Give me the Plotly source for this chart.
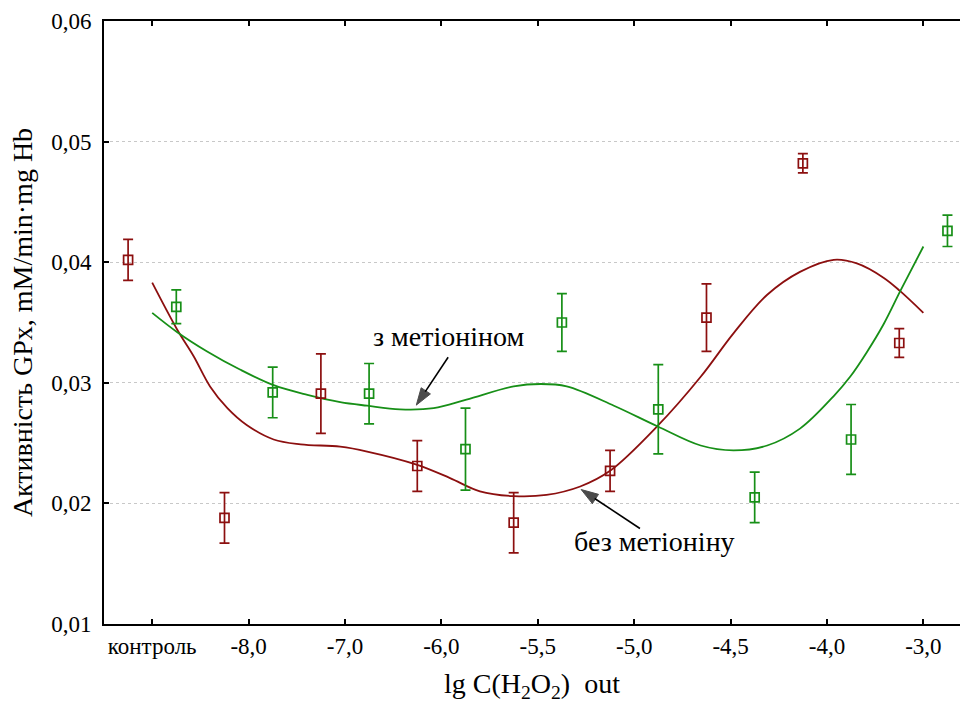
import plotly.graph_objects as go

# ---- data ----
tick_labels = ["контроль", "-8,0", "-7,0", "-6,0", "-5,5", "-5,0", "-4,5", "-4,0", "-3,0"]
positions = [0, 1, 2, 3, 4, 5, 6, 7, 8]

# без метіоніну (red) – means and errors
red_mean = [0.0402, 0.0188, 0.0291, 0.0231, 0.0184, 0.0227, 0.0354, 0.0482, 0.0333]
red_err = [0.0017, 0.0021, 0.0033, 0.0021, 0.0025, 0.0017, 0.0028, 0.0008, 0.0012]

# з метіоніном (green) – means and errors
green_mean = [0.0363, 0.0292, 0.0291, 0.0245, 0.0350, 0.0278, 0.0205, 0.0253, 0.0426]
green_err = [0.0014, 0.0021, 0.0025, 0.0034, 0.0024, 0.0037, 0.0021, 0.0029, 0.0013]

# fitted curves
red_curve_x = [0.0, 0.26, 0.43, 0.60, 0.78, 0.98, 1.26, 1.54, 1.95, 2.23, 2.75, 3.09,
               3.40, 3.75, 4.09, 4.44, 4.75, 5.24, 5.69, 6.03, 6.38, 6.72, 7.07,
               7.31, 7.59, 7.76, 8.0]
red_curve_y = [0.0383, 0.0344, 0.0322, 0.0297, 0.0279, 0.0265, 0.0253, 0.0249, 0.0247, 0.0243,
               0.0232, 0.0221, 0.0210, 0.0206, 0.0207, 0.0214, 0.0227, 0.0264, 0.0305, 0.0341,
               0.0373, 0.0392, 0.0402, 0.0399, 0.0387, 0.0376, 0.0358]

green_curve_x = [0.0, 0.26, 0.57, 0.91, 1.26, 1.61, 1.95, 2.23, 2.57, 2.92, 3.26,
                 3.75, 4.03, 4.30, 4.79, 5.24, 5.69, 6.03, 6.38, 6.72, 7.07, 7.24, 7.41,
                 7.59, 7.76, 8.0]
green_curve_y = [0.0358, 0.0342, 0.0326, 0.0311, 0.0298, 0.0290, 0.0284, 0.0281, 0.0278,
                 0.0279, 0.0286, 0.0297, 0.0299, 0.0297, 0.0281, 0.0264, 0.0248, 0.0244,
                 0.0248, 0.0262, 0.0289, 0.0305, 0.0325, 0.0349, 0.0376, 0.0413]

# annotation labels and their arrows (tail -> head), in axis units
label_text = ["з метіоніном", "без метіоніну"]
label_x = [3.07, 5.21]
label_y = [0.0338, 0.0168]
arrow_tail_x = [3.07, 5.06]
arrow_tail_y = [0.03212, 0.01792]
arrow_head_x = [2.74, 4.45]
arrow_head_y = [0.02815, 0.02115]

RED = "#8c0f0f"
GREEN = "#178f17"
FONT = "Liberation Serif"

red_x = [p - 0.25 for p in positions]
green_x = [p + 0.25 for p in positions]

fig = go.Figure()

fig.add_trace(go.Scatter(x=red_curve_x, y=red_curve_y, mode="lines",
                         line=dict(color=RED, width=1.8, shape="spline", smoothing=1.0),
                         showlegend=False, hoverinfo="skip"))
fig.add_trace(go.Scatter(x=green_curve_x, y=green_curve_y, mode="lines",
                         line=dict(color=GREEN, width=1.8, shape="spline", smoothing=1.0),
                         showlegend=False, hoverinfo="skip"))

fig.add_trace(go.Scatter(
    x=red_x, y=red_mean, mode="markers", name="без метіоніну",
    marker=dict(symbol="square-open", size=9, color=RED, line=dict(width=1.7, color=RED)),
    error_y=dict(type="data", array=red_err, color=RED, thickness=1.7, width=5),
    showlegend=False))
fig.add_trace(go.Scatter(
    x=green_x, y=green_mean, mode="markers", name="з метіоніном",
    marker=dict(symbol="square-open", size=9, color=GREEN, line=dict(width=1.7, color=GREEN)),
    error_y=dict(type="data", array=green_err, color=GREEN, thickness=1.7, width=5),
    showlegend=False))

# arrows drawn as short lines ending in an arrow marker
for tx, ty, hx, hy in zip(arrow_tail_x, arrow_tail_y, arrow_head_x, arrow_head_y):
    fig.add_trace(go.Scatter(
        x=[tx, hx], y=[ty, hy], mode="lines+markers",
        line=dict(color="black", width=1.6),
        marker=dict(symbol=["circle", "arrow"], size=[0, 18], color="black",
                    angleref="previous", line=dict(width=1, color="black")),
        showlegend=False, hoverinfo="skip"))

annotations = [
    dict(x=lx, y=ly, xref="x", yref="y", text=t, showarrow=False,
         font=dict(family=FONT, size=28, color="black"))
    for t, lx, ly in zip(label_text, label_x, label_y)
]

fig.update_layout(
    width=960, height=704,
    margin=dict(l=104, r=0, t=21, b=80),
    paper_bgcolor="white", plot_bgcolor="white",
    separators=", ",
    font=dict(family=FONT, size=23, color="black"),
    annotations=annotations,
    showlegend=False,
)

fig.update_xaxes(
    range=[-0.5, 8.38], tickmode="array", tickvals=positions, ticktext=tick_labels,
    showgrid=False, zeroline=False,
    showline=True, linecolor="black", linewidth=2, mirror="ticks",
    ticks="inside", ticklen=5, tickwidth=2, tickcolor="black",
    tickfont=dict(family=FONT, size=23, color="black"),
    title=dict(text="lg C(H<sub>2</sub>O<sub>2</sub>)  out",
               font=dict(family=FONT, size=28, color="black"), standoff=16),
)
fig.update_yaxes(
    range=[0.01, 0.06], dtick=0.01, tick0=0.01, tickformat=".2f",
    showgrid=True, gridcolor="#c8c8c8", griddash="dot", gridwidth=1,
    zeroline=False,
    showline=True, linecolor="black", linewidth=2, mirror=False,
    ticks="inside", ticklen=5, tickwidth=1.5, tickcolor="black",
    tickfont=dict(family=FONT, size=23, color="black"), ticklabelstandoff=6,
    title=dict(text="Активність GPx, mM/min·mg Hb",
               font=dict(family=FONT, size=28, color="black"), standoff=10),
)

fig.write_html("out.html")
